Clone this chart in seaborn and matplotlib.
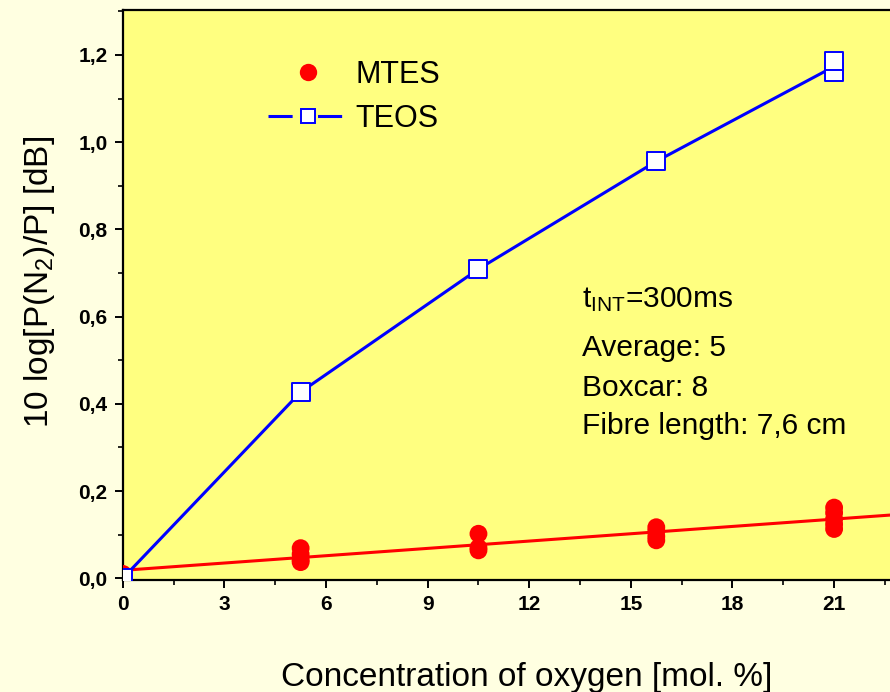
import matplotlib
matplotlib.use("Agg")
import matplotlib.pyplot as plt
import seaborn as sns
import pandas as pd
from matplotlib.lines import Line2D
from matplotlib.ticker import MultipleLocator, FixedLocator, FuncFormatter

# ---- data ----
mtes_x = [0, 5.25, 5.25, 5.25, 5.25, 10.5, 10.5, 10.5,
          15.75, 15.75, 15.75, 15.75, 21, 21, 21, 21, 21]
mtes_y = [0.010, 0.069, 0.055, 0.042, 0.037, 0.102, 0.070, 0.064,
          0.117, 0.108, 0.096, 0.087, 0.162, 0.150, 0.136, 0.124, 0.113]
teos_x = [0, 5.25, 10.5, 15.75, 21, 21]
teos_y = [0.0, 0.427, 0.709, 0.956, 1.161, 1.186]
x_ticks = [0, 3, 6, 9, 12, 15, 18, 21]
y_ticks = [0.0, 0.2, 0.4, 0.6, 0.8, 1.0, 1.2]
series_names = ["MTES", "TEOS"]
info_lines = [r"t$_{\mathregular{INT}}$=300ms", "Average: 5", "Boxcar: 8",
              "Fibre length: 7,6 cm"]

mtes = pd.DataFrame({"x": mtes_x, "y": mtes_y})
teos = pd.DataFrame({"x": teos_x, "y": teos_y})

sns.set_style("ticks")
plt.rcParams["font.family"] = ["Liberation Sans", "DejaVu Sans"]
plt.rcParams["mathtext.fontset"] = "custom"
plt.rcParams["mathtext.rm"] = "Liberation Sans"
plt.rcParams["mathtext.it"] = "Liberation Sans:italic"
plt.rcParams["mathtext.bf"] = "Liberation Sans:bold"
for k in ["text.color", "axes.labelcolor", "xtick.color", "ytick.color",
          "xtick.labelcolor", "ytick.labelcolor", "axes.edgecolor"]:
    plt.rcParams[k] = "black"

fig = plt.figure(figsize=(8.9, 6.92), dpi=100, facecolor="#FFFFE1")
ax = fig.add_axes([0.138, 1 - 580 / 692, 1 - 0.138, (580 - 10) / 692])
ax.set_facecolor("#FFFF80")
XMAX, YMIN, YMAX = 22.65, -0.004, 1.303
ax.set_xlim(0, XMAX)
ax.set_ylim(YMIN, YMAX)

RED, BLUE = "#FF0000", "#0000FF"

sns.regplot(data=mtes, x="x", y="y", ci=None, truncate=False, scatter=False,
            line_kws=dict(color=RED, lw=2.2, zorder=2), ax=ax)
sns.scatterplot(data=mtes, x="x", y="y", color=RED, s=165, edgecolor="none",
                zorder=3, ax=ax, legend=False)
sns.lineplot(data=teos, x="x", y="y", estimator="mean", errorbar=None,
             color=BLUE, lw=2.2, zorder=4, ax=ax)
sns.scatterplot(data=teos, x="x", y="y", marker="s", s=160, facecolor="white",
                edgecolor=BLUE, linewidth=1.4, zorder=5, ax=ax, legend=False)

ax.set_xlim(0, XMAX)
ax.set_ylim(YMIN, YMAX)

# ticks
ax.xaxis.set_major_locator(FixedLocator(x_ticks))
ax.xaxis.set_minor_locator(MultipleLocator(1.5))
ax.yaxis.set_major_locator(FixedLocator(y_ticks))
ax.yaxis.set_minor_locator(MultipleLocator(0.1))
ax.xaxis.set_major_formatter(FuncFormatter(lambda v, p: f"{v:.0f}"))
ax.yaxis.set_major_formatter(FuncFormatter(lambda v, p: f"{v:.1f}".replace(".", ",")))
ax.tick_params(which="major", direction="out", length=6, width=1.4,
               labelsize=15, color="black", labelcolor="black", pad=5)
ax.tick_params(which="minor", direction="out", length=3.5, width=1.2, color="black")
ax.tick_params(axis="both", which="both", bottom=True, left=True, top=False, right=False)
for lab in ax.get_xticklabels() + ax.get_yticklabels():
    lab.set_fontweight("bold")

for s in ["left", "bottom", "top"]:
    ax.spines[s].set_visible(True)
    ax.spines[s].set_color("black")
    ax.spines[s].set_linewidth(1.6)
ax.spines["right"].set_visible(False)

ax.set_xlabel("Concentration of oxygen [mol. %]", fontsize=24, color="black")
ax.xaxis.set_label_coords((527 - 123) / 767, -0.143)
ax.set_ylabel(r"10 log[P(N$_{\mathregular{2}}$)/P] [dB]", fontsize=24, color="black")
ax.yaxis.set_label_coords(-0.086, (580 - 282) / 570)

# legend
handles = [
    Line2D([], [], color=RED, marker="o", linestyle="none", markersize=12.5,
           markeredgecolor="none"),
    Line2D([], [], color=BLUE, marker="s", lw=2.2, markersize=10.5,
           markerfacecolor="white", markeredgecolor=BLUE, markeredgewidth=1.4,
           dashes=(7.9, 8.3)),
]
ax.legend(handles, series_names, frameon=False, fontsize=22, loc="upper left",
          bbox_to_anchor=(268 / 890, 1 - 60 / 692), bbox_transform=fig.transFigure,
          borderpad=0, borderaxespad=0, handlelength=2.6, handletextpad=0.25,
          labelspacing=0.45)

# info block
info_y = [307.5, 356.5, 396.5, 434.5]
for txt, yp in zip(info_lines, info_y):
    ax.text((582 - 123) / 767, (580 - yp) / 570, txt, transform=ax.transAxes,
            fontsize=21.5, ha="left", va="baseline", color="black")

fig.savefig("out.png", dpi=100, facecolor=fig.get_facecolor())
